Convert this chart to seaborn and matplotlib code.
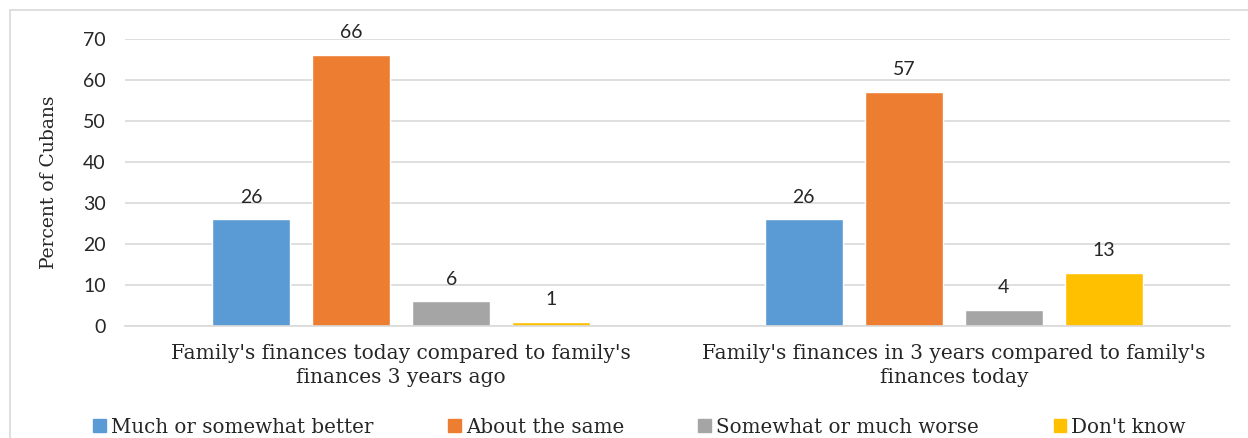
import matplotlib
matplotlib.use("Agg")
import matplotlib.pyplot as plt
import seaborn as sns
import pandas as pd
from matplotlib.patches import Rectangle

# data
questions = [
    "Family's finances today compared to family's\nfinances 3 years ago",
    "Family's finances in 3 years compared to family's\nfinances today",
]
answers = ["Much or somewhat better", "About the same", "Somewhat or much worse", "Don't know"]
past_vs_today = [26, 66, 6, 1]
future_vs_today = [26, 57, 4, 13]
y_ticks = [0, 10, 20, 30, 40, 50, 60, 70]

colors = ["#5B9BD5", "#ED7D31", "#A5A5A5", "#FFC000"]
SERIF = "DejaVu Serif"
SANS = "Lato"

df = pd.DataFrame({
    "question": [questions[0]] * 4 + [questions[1]] * 4,
    "answer": answers * 2,
    "pct": past_vs_today + future_vs_today,
})

sns.set_theme(style="white")
plt.rcParams["font.family"] = [SANS, "DejaVu Sans"]

fig = plt.figure(figsize=(12.48, 4.38), dpi=100)
ax = fig.add_axes([0.1002, 0.2557, 0.8854, 0.6553])

sns.barplot(data=df, x="question", y="pct", hue="answer", order=questions,
            hue_order=answers, palette=colors, width=0.724, gap=0.22,
            saturation=1, legend=False, ax=ax)

for cont in ax.containers:
    ax.bar_label(cont, fmt="%d", padding=10, fontsize=14, family=SANS, clip_on=False)

ax.set_ylim(0, 70)
ax.set_xlim(-0.5, 1.5)
ax.set_yticks(y_ticks)
ax.tick_params(axis="y", labelsize=14, pad=14, length=0)
ax.tick_params(axis="x", length=0, pad=13)
for lab in ax.get_xticklabels():
    lab.set_fontfamily(SERIF)
    lab.set_fontsize(14.5)
    lab.set_linespacing(1.3)
ax.yaxis.grid(True, color="#D9D9D9", linewidth=1.2)
ax.set_axisbelow(True)
for side in ["top", "right", "left"]:
    ax.spines[side].set_visible(False)
ax.spines["bottom"].set_color("#D9D9D9")
ax.spines["bottom"].set_linewidth(1.2)
ax.set_xlabel("")
ax.set_ylabel("Percent of Cubans", fontsize=13.5, family=SERIF, labelpad=18)

handles = [Rectangle((0, 0), 1, 1, color=c) for c in colors]
fig.legend(handles, answers, loc="center", bbox_to_anchor=(0.5124, 0.025), ncol=4,
           frameon=False, prop={"family": SERIF, "size": 14.3}, handlelength=0.65,
           handleheight=0.65, handletextpad=0.25, columnspacing=3.75)

# light outer frame like the original chart box
fig.patches.append(Rectangle((10 / 1248, -0.1), 1.1, 1 - 10 / 438 + 0.1,
                             transform=fig.transFigure, fill=False,
                             edgecolor="#D9D9D9", linewidth=1.2))

fig.savefig("out.png", dpi=100)
